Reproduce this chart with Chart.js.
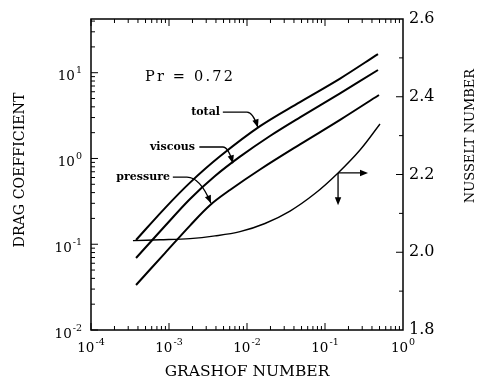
<!DOCTYPE html>
<html>
<head>
<meta charset="UTF-8">
<title>Drag coefficient and Nusselt number</title>
<script src="https://cdn.jsdelivr.net/npm/chart.js"></script>
<style>
  html, body { margin: 0; padding: 0; background: #fff; }
</style>
</head>
<body>
<canvas id="dragChart" width="484" height="383"></canvas>
<script>
// values, Grashof number on the x axis
var totalGr = [3.78e-4, 8.88e-4, 1.86e-3, 4.51e-3, 0.0147, 0.0478, 0.156, 0.478];
var totalCd = [0.112, 0.264, 0.523, 1.06, 2.38, 4.55, 8.55, 16.5];

var viscousGr = [3.78e-4, 8.88e-4, 1.86e-3, 3.89e-3, 8.13e-3, 0.0197, 0.0478, 0.156, 0.478];
var viscousCd = [0.0691, 0.163, 0.337, 0.624, 1.05, 1.83, 3.02, 5.75, 10.75];

var pressureGr = [3.78e-4, 8.88e-4, 1.86e-3, 3.35e-3, 6.05e-3, 0.0147, 0.0478, 0.156, 0.492];
var pressureCd = [0.0335, 0.0788, 0.165, 0.285, 0.429, 0.744, 1.46, 2.82, 5.50];

var nusseltGr = [3.45e-4, 7.67e-4, 1.86e-3, 3.89e-3, 8.13e-3, 0.0170, 0.0356, 0.0744, 0.147, 0.281, 0.507];
var nusseltNu = [2.030, 2.032, 2.035, 2.042, 2.053, 2.074, 2.106, 2.151, 2.204, 2.263, 2.330];

// tick labels
var grExponents = [-4, -3, -2, -1, 0];
var cdExponents = [-2, -1, 0, 1];
var nuTicks = [1.8, 2.0, 2.2, 2.4, 2.6];

var SERIF = '"DejaVu Serif", "Liberation Serif", serif';

function points(xs, ys) {
    return xs.map(function (x, i) { return { x: x, y: ys[i] }; });
}

// labels with leader arrows, in data coordinates
var notes = [
    { text: 'total', x: 4.5e-3, y: 3.47, path: [[4.9e-3, 3.47], [0.0100, 3.47], [0.0138, 2.30]] },
    { text: 'viscous', x: 2.15e-3, y: 1.36, path: [[2.45e-3, 1.36], [4.9e-3, 1.36], [6.6e-3, 0.88]] },
    { text: 'pressure', x: 1.03e-3, y: 0.606, path: [[1.12e-3, 0.606], [1.70e-3, 0.606], [3.45e-3, 0.30]] }
];
var nuArrow = { x: 0.147, y: 2.204, xEnd: 0.356, yEnd: 2.121 };

function arrowHead(ctx, fx, fy, tx, ty) {
    var a = Math.atan2(ty - fy, tx - fx);
    var len = 8, half = 3.2;
    ctx.beginPath();
    ctx.moveTo(tx, ty);
    ctx.lineTo(tx - len * Math.cos(a) + half * Math.sin(a), ty - len * Math.sin(a) - half * Math.cos(a));
    ctx.lineTo(tx - len * Math.cos(a) - half * Math.sin(a), ty - len * Math.sin(a) + half * Math.cos(a));
    ctx.closePath();
    ctx.fill();
}

function drawPower(ctx, exp, x, baseline, align) {
    var base = '10';
    var sup = exp < 0 ? '-' + (-exp) : String(exp);
    ctx.font = '13.5px ' + SERIF;
    var wb = ctx.measureText(base).width;
    ctx.font = '9.5px ' + SERIF;
    var ws = ctx.measureText(sup).width;
    var w = wb + 1 + ws;
    var x0 = align === 'center' ? x - w / 2 : x - w;
    ctx.textAlign = 'left';
    ctx.textBaseline = 'alphabetic';
    ctx.font = '13.5px ' + SERIF;
    ctx.fillText(base, x0, baseline);
    ctx.font = '9.5px ' + SERIF;
    ctx.fillText(sup, x0 + wb + 1, baseline - 7);
}

var figurePlugin = {
    id: 'figurePlugin',
    afterDatasetsDraw: function (chart) {
        var ctx = chart.ctx;
        var area = chart.chartArea;
        var sx = chart.scales.x, sy = chart.scales.y, sn = chart.scales.y1;
        ctx.save();
        ctx.strokeStyle = '#000';
        ctx.fillStyle = '#000';

        // frame
        ctx.lineWidth = 1.5;
        ctx.strokeRect(area.left, area.top, area.right - area.left, area.bottom - area.top);

        // inward ticks
        ctx.lineWidth = 1;
        ctx.beginPath();
        var k, m, v, p, len;
        for (k = -4; k < 0; k++) {
            for (m = 1; m <= 9; m++) {
                v = m * Math.pow(10, k);
                p = sx.getPixelForValue(v);
                len = m === 1 ? 7 : 4;
                ctx.moveTo(p, area.bottom); ctx.lineTo(p, area.bottom - len);
                ctx.moveTo(p, area.top); ctx.lineTo(p, area.top + len);
            }
        }
        for (k = -2; k <= 1; k++) {
            for (m = 1; m <= 9; m++) {
                v = m * Math.pow(10, k);
                if (v > sy.max) break;
                p = sy.getPixelForValue(v);
                len = m === 1 ? 7 : 4;
                ctx.moveTo(area.left, p); ctx.lineTo(area.left + len, p);
            }
        }
        for (k = 19; k < 26; k++) {
            p = sn.getPixelForValue(k / 10);
            len = k % 2 === 0 ? 7 : 4;
            ctx.moveTo(area.right, p); ctx.lineTo(area.right - len, p);
        }
        ctx.stroke();

        // log tick labels
        grExponents.forEach(function (e) {
            drawPower(ctx, e, sx.getPixelForValue(Math.pow(10, e)), area.bottom + 22, 'center');
        });
        cdExponents.forEach(function (e) {
            drawPower(ctx, e, area.left - 9, sy.getPixelForValue(Math.pow(10, e)) + 7.5, 'right');
        });

        // axis titles
        ctx.textAlign = 'center';
        ctx.textBaseline = 'middle';
        ctx.font = '15.5px ' + SERIF;
        ctx.fillText('GRASHOF NUMBER', (area.left + area.right) / 2, area.bottom + 42);
        ctx.save();
        ctx.font = '14.2px ' + SERIF;
        ctx.translate(20, area.top + 151);
        ctx.rotate(-Math.PI / 2);
        ctx.fillText('DRAG COEFFICIENT', 0, 0);
        ctx.restore();
        ctx.save();
        ctx.font = '13px ' + SERIF;
        ctx.translate(area.right + 68, area.top + 117);
        ctx.rotate(-Math.PI / 2);
        ctx.fillText('NUSSELT NUMBER', 0, 0);
        ctx.restore();

        // Pr label
        ctx.font = '14.5px ' + SERIF;
        ctx.textAlign = 'left';
        ctx.letterSpacing = '2.2px';
        ctx.fillText('Pr = 0.72', sx.getPixelForValue(4.92e-4), sy.getPixelForValue(8.9));
        ctx.letterSpacing = '0px';

        // curve labels with leader arrows
        ctx.font = 'bold 11px ' + SERIF;
        ctx.textAlign = 'right';
        ctx.lineWidth = 1.3;
        notes.forEach(function (n) {
            ctx.fillText(n.text, sx.getPixelForValue(n.x), sy.getPixelForValue(n.y));
            var pts = n.path.map(function (q) { return [sx.getPixelForValue(q[0]), sy.getPixelForValue(q[1])]; });
            var cx = pts[1][0] + (pts[2][0] - pts[1][0]) * 0.55;
            var cy = pts[1][1];
            ctx.beginPath();
            ctx.moveTo(pts[0][0], pts[0][1]);
            ctx.lineTo(pts[1][0], pts[1][1]);
            ctx.quadraticCurveTo(cx, cy, pts[2][0], pts[2][1]);
            ctx.stroke();
            arrowHead(ctx, cx, cy, pts[2][0], pts[2][1]);
        });

        // arrow pointing the Nusselt curve to the right axis
        var ax = sx.getPixelForValue(nuArrow.x), ay = sn.getPixelForValue(nuArrow.y);
        var bx = sx.getPixelForValue(nuArrow.xEnd), by = sn.getPixelForValue(nuArrow.yEnd);
        ctx.beginPath();
        ctx.moveTo(ax, ay); ctx.lineTo(bx - 4, ay);
        ctx.moveTo(ax, ay); ctx.lineTo(ax, by - 4);
        ctx.stroke();
        arrowHead(ctx, ax, ay, bx, ay);
        arrowHead(ctx, ax, ay, ax, by);

        ctx.restore();
    }
};

var lineStyle = {
    borderColor: '#000',
    borderWidth: 2,
    pointRadius: 0,
    fill: false,
    tension: 0.35
};

new Chart(document.getElementById('dragChart'), {
    type: 'line',
    data: {
        datasets: [
            Object.assign({ label: 'total', data: points(totalGr, totalCd), yAxisID: 'y' }, lineStyle),
            Object.assign({ label: 'viscous', data: points(viscousGr, viscousCd), yAxisID: 'y' }, lineStyle),
            Object.assign({ label: 'pressure', data: points(pressureGr, pressureCd), yAxisID: 'y' }, lineStyle),
            Object.assign({}, lineStyle, { label: 'Nusselt', data: points(nusseltGr, nusseltNu), yAxisID: 'y1', borderWidth: 1.4 })
        ]
    },
    options: {
        responsive: false,
        animation: false,
        devicePixelRatio: 1,
        layout: { padding: { top: 19, left: 0, right: 0, bottom: 0 } },
        plugins: {
            legend: { display: false },
            tooltip: { enabled: false }
        },
        scales: {
            x: {
                type: 'logarithmic',
                min: 1e-4,
                max: 1,
                grid: { display: false },
                border: { display: false },
                ticks: { display: false },
                afterFit: function (s) { s.height = 53; }
            },
            y: {
                type: 'logarithmic',
                position: 'left',
                min: 0.01,
                max: 42.3,
                grid: { display: false },
                border: { display: false },
                ticks: { display: false },
                afterFit: function (s) { s.width = 91; }
            },
            y1: {
                type: 'linear',
                position: 'right',
                min: 1.8,
                max: 2.6,
                grid: { display: false, drawTicks: false },
                border: { display: false },
                ticks: {
                    stepSize: 0.2,
                    padding: 6,
                    color: '#000',
                    font: { family: SERIF, size: 16 },
                    callback: function (v) {
                        var hit = nuTicks.some(function (t) { return Math.abs(t - v) < 1e-6; });
                        return hit ? v.toFixed(1) : '';
                    }
                },
                afterFit: function (s) { s.width = 81; }
            }
        }
    },
    plugins: [figurePlugin]
});
</script>
</body>
</html>
